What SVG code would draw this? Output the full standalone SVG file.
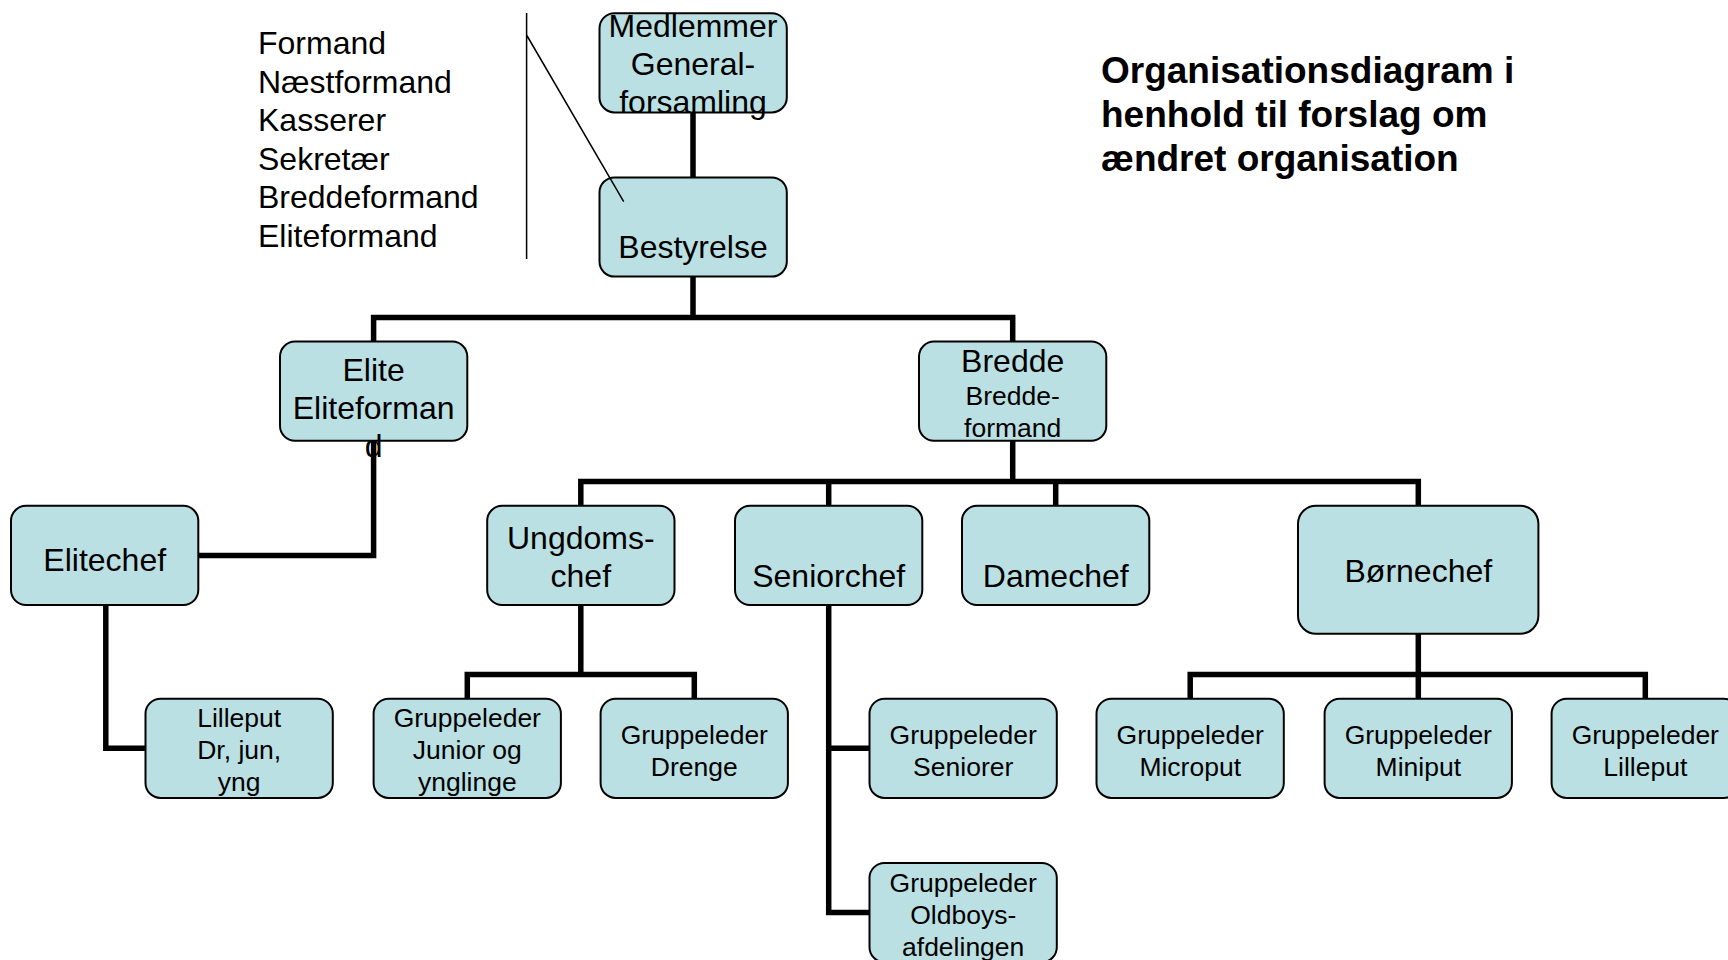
<svg xmlns="http://www.w3.org/2000/svg" width="1728" height="960" viewBox="0 0 1728 960">
<style>
.box{fill:#BBE0E3;stroke:#000;stroke-width:2}
.t{font-family:"Liberation Sans",Arial,sans-serif;font-size:32px;fill:#000;text-anchor:middle}
.s{font-size:26.5px}
.l{font-family:"Liberation Sans",Arial,sans-serif;font-size:32px;fill:#000}
.title{font-family:"Liberation Sans",Arial,sans-serif;font-size:37px;font-weight:bold;fill:#000}
.c{fill:none;stroke:#000;stroke-width:5.5}
.thin{fill:none;stroke:#000;stroke-width:1.5}
</style>
<rect width="1728" height="960" fill="#fff"/>
<g id="connectors">
<path class="c" d="M693,112 V177"/>
<path class="c" d="M693,277 V317.5 M373.6,341.6 V317.5 H1012.7 V341.6"/>
<path class="c" d="M373.6,441 V555.4 H198.4"/>
<path class="c" d="M1012.7,441 V481.6 M580.8,505.8 V481.6 H1418.3 V505.8 M828.7,481.6 V505.8 M1055.7,481.6 V505.8"/>
<path class="c" d="M105.8,605 V748.3 H145.5"/>
<path class="c" d="M580.8,605 V674.4 M467.3,698.7 V674.4 H694.3 V698.7"/>
<path class="c" d="M828.7,605 V912.5 H869.5 M828.7,748.3 H869.5"/>
<path class="c" d="M1418.3,633.7 V674.4 M1190.2,698.7 V674.4 H1645.3 V698.7 M1418.3,674.4 V698.7"/>
</g>
<g id="title">
<text class="title" x="1101" y="82.5">Organisationsdiagram i</text>
<text class="title" x="1101" y="126.5">henhold til forslag om</text>
<text class="title" x="1101" y="170.5">ændret organisation</text>
</g>
<g id="medlemmer">
<rect class="box" x="599.5" y="13.2" width="187.3" height="99.2" rx="15"/>
<text class="t" x="693" y="37">Medlemmer</text>
<text class="t" x="693" y="75">General-</text>
<text class="t" x="693" y="113">forsamling</text>
</g>
<g id="bestyrelse">
<rect class="box" x="599.5" y="177.4" width="187.3" height="99.2" rx="15"/>
<text class="t" x="693" y="258">Bestyrelse</text>
</g>
<g id="elite">
<rect class="box" x="280" y="341.6" width="187.3" height="99.2" rx="15"/>
<text class="t" x="373.6" y="380.5">Elite</text>
<text class="t" x="373.6" y="418.5">Eliteforman</text>
<text class="t" x="373.6" y="456.5">d</text>
</g>
<g id="bredde">
<rect class="box" x="919" y="341.6" width="187.3" height="99.2" rx="15"/>
<text class="t" x="1012.7" y="372">Bredde</text>
<text class="t s" x="1012.7" y="405">Bredde-</text>
<text class="t s" x="1012.7" y="437">formand</text>
</g>
<g id="elitechef">
<rect class="box" x="11" y="505.8" width="187.3" height="99.2" rx="15"/>
<text class="t" x="104.7" y="571">Elitechef</text>
</g>
<g id="ungdomschef">
<rect class="box" x="487.2" y="505.8" width="187.3" height="99.2" rx="15"/>
<text class="t" x="580.8" y="549">Ungdoms-</text>
<text class="t" x="580.8" y="586.5">chef</text>
</g>
<g id="seniorchef">
<rect class="box" x="735" y="505.8" width="187.3" height="99.2" rx="15"/>
<text class="t" x="828.7" y="586.5">Seniorchef</text>
</g>
<g id="damechef">
<rect class="box" x="962" y="505.8" width="187.3" height="99.2" rx="15"/>
<text class="t" x="1055.7" y="586.5">Damechef</text>
</g>
<g id="boernechef">
<rect class="box" x="1298" y="505.8" width="240.4" height="127.9" rx="18"/>
<text class="t" x="1418.3" y="582">Børnechef</text>
</g>
<g id="lilleput-dr">
<rect class="box" x="145.5" y="698.7" width="187.3" height="99.2" rx="15"/>
<text class="t s" x="239.2" y="727">Lilleput</text>
<text class="t s" x="239.2" y="759">Dr, jun,</text>
<text class="t s" x="239.2" y="791">yng</text>
</g>
<g id="gl-junior">
<rect class="box" x="373.6" y="698.7" width="187.3" height="99.2" rx="15"/>
<text class="t s" x="467.3" y="727">Gruppeleder</text>
<text class="t s" x="467.3" y="759">Junior og</text>
<text class="t s" x="467.3" y="791">ynglinge</text>
</g>
<g id="gl-drenge">
<rect class="box" x="600.6" y="698.7" width="187.3" height="99.2" rx="15"/>
<text class="t s" x="694.3" y="743.5">Gruppeleder</text>
<text class="t s" x="694.3" y="775.5">Drenge</text>
</g>
<g id="gl-seniorer">
<rect class="box" x="869.5" y="698.7" width="187.3" height="99.2" rx="15"/>
<text class="t s" x="963.2" y="743.5">Gruppeleder</text>
<text class="t s" x="963.2" y="775.5">Seniorer</text>
</g>
<g id="gl-oldboys">
<rect class="box" x="869.5" y="863" width="187.3" height="99.2" rx="15"/>
<text class="t s" x="963.2" y="892">Gruppeleder</text>
<text class="t s" x="963.2" y="924">Oldboys-</text>
<text class="t s" x="963.2" y="956">afdelingen</text>
</g>
<g id="gl-microput">
<rect class="box" x="1096.5" y="698.7" width="187.3" height="99.2" rx="15"/>
<text class="t s" x="1190.2" y="743.5">Gruppeleder</text>
<text class="t s" x="1190.2" y="775.5">Microput</text>
</g>
<g id="gl-miniput">
<rect class="box" x="1324.6" y="698.7" width="187.3" height="99.2" rx="15"/>
<text class="t s" x="1418.3" y="743.5">Gruppeleder</text>
<text class="t s" x="1418.3" y="775.5">Miniput</text>
</g>
<g id="gl-lilleput">
<rect class="box" x="1551.6" y="698.7" width="187.3" height="99.2" rx="15"/>
<text class="t s" x="1645.3" y="743.5">Gruppeleder</text>
<text class="t s" x="1645.3" y="775.5">Lilleput</text>
</g>
<g id="board-list">
<text class="l" x="258" y="54">Formand</text>
<text class="l" x="258" y="92.5">Næstformand</text>
<text class="l" x="258" y="131">Kasserer</text>
<text class="l" x="258" y="169.5">Sekretær</text>
<text class="l" x="258" y="208">Breddeformand</text>
<text class="l" x="258" y="246.5">Eliteformand</text>
<path class="thin" d="M526.6,13 V259 M526.6,35 L623.7,201.7"/>
</g>
</svg>
